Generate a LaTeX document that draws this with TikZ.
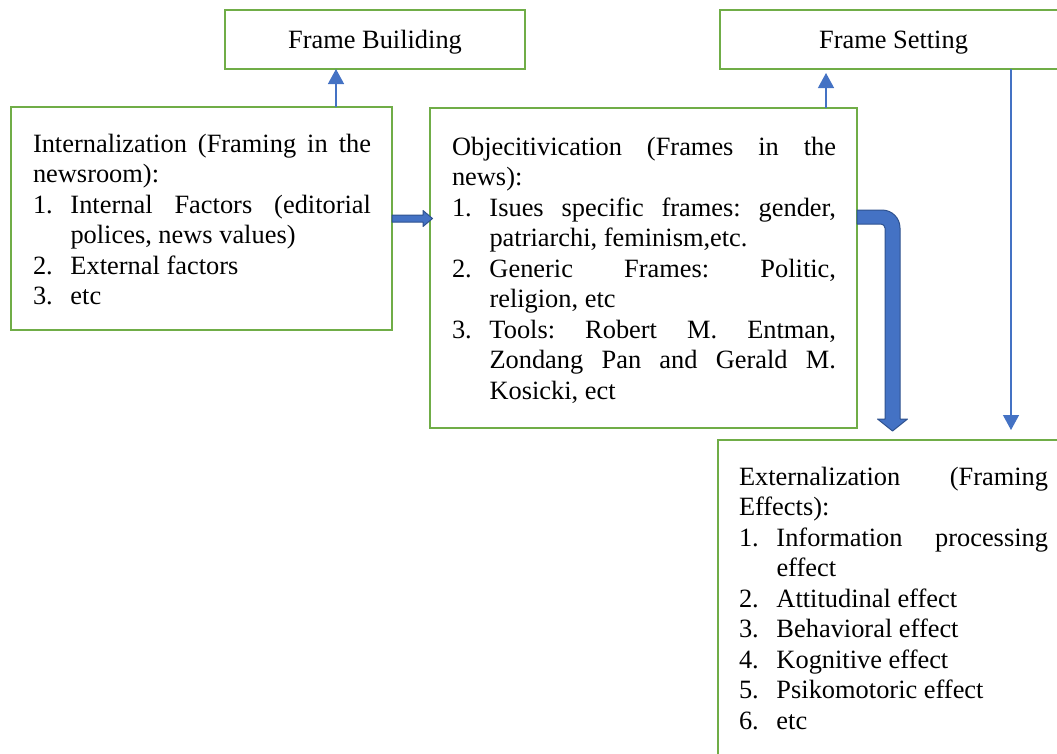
\documentclass[tikz,border=0pt]{standalone}
\usepackage{fontspec}
\setmainfont{Liberation Serif}
\usetikzlibrary{arrows.meta,calc}
\definecolor{boxgreen}{HTML}{70AD47}
\definecolor{arrblue}{HTML}{4472C4}
\definecolor{arrdark}{HTML}{2F528F}
\newcommand\itm[2]{\par\hangindent=37.5pt\hangafter=1\noindent\makebox[37.5pt][l]{#1}#2}
\begin{document}
\begin{tikzpicture}[x=1pt,y=-1pt,
  box/.style={draw=boxgreen,line width=2.8pt,inner sep=0pt,outer sep=0pt},
  title/.style={font={\fontsize{26.4}{30.5}\selectfont},text height=18pt,text depth=0pt},
  txt/.style={inner sep=0pt,outer sep=0pt,anchor=north west,align=justify,
    font={\fontsize{26.4}{30.5}\selectfont\frenchspacing\tolerance=10000\hyphenpenalty=10000}},
  thinarrow/.style={draw=arrblue,line width=1.3pt,-{Triangle[width=16pt,length=15pt]}},
  blockarrow/.style={fill=arrblue,draw=arrdark,line width=1pt,line join=round}]
\useasboundingbox (0,0) rectangle (1057,753);
\clip (0,0) rectangle (1057,753);
% boxes
\node[box,title,minimum width=300pt,minimum height=59pt] (fb) at (375,39.5) {Frame Builiding};
\node[box,title,minimum width=347pt,minimum height=59pt] (fs) at (893.5,39.5) {Frame Setting};
\node[box,minimum width=381pt,minimum height=223pt] (int) at (201.5,218.5) {};
\node[box,minimum width=427pt,minimum height=320pt] (obj) at (643.5,268) {};
\node[box,minimum width=351pt,minimum height=360pt] (ext) at (893.5,620) {};
% texts
\node[txt,text width=338pt] (inttxt) at (33,132) {\noindent\rule{0pt}{20pt}Internalization (Framing in the\linebreak newsroom):
\itm{1.}{Internal Factors (editorial\linebreak polices, news values)}
\itm{2.}{External factors}
\itm{3.}{etc}\par};
\node[txt,text width=384pt] (objtxt) at (452,135) {\noindent\rule{0pt}{20pt}Objecitivication (Frames in the\linebreak news):
\itm{1.}{Isues specific frames: gender,\linebreak patriarchi, feminism,etc.}
\itm{2.}{Generic Frames: Politic,\linebreak religion, etc}
\itm{3.}{Tools: Robert M. Entman,\linebreak Zondang Pan and Gerald M.\linebreak Kosicki, ect}\par};
\node[txt,text width=309pt] (exttxt) at (739,465) {\noindent\rule{0pt}{20pt}Externalization (Framing\linebreak Effects):
\itm{1.}{Information processing\linebreak effect}
\itm{2.}{Attitudinal effect}
\itm{3.}{Behavioral effect}
\itm{4.}{Kognitive effect}
\itm{5.}{Psikomotoric effect}
\itm{6.}{etc}\par};
% thin connectors
\coordinate (c1) at ($(fb.south west)+(111,0)$);
\draw[thinarrow] (c1 |- int.north) -- (c1);
\coordinate (c2) at ($(obj.north east)+(-31,0)$);
\draw[thinarrow,shorten >=4pt] (c2) -- (c2 |- fs.south);
\coordinate (c3) at ($(fs.south west)+(291,0)$);
\draw[thinarrow,shorten >=10pt] (c3) -- (c3 |- ext.north);
% block arrow int -> obj
\coordinate (a0) at (int.east);
\coordinate (a1) at (obj.west |- int.east);
\path[blockarrow] ($(a0)+(0,-3.5)$) -- ($(a1)+(-7,-3.5)$) -- ($(a1)+(-7,-8)$) -- ($(a1)+(2.5,0)$)
  -- ($(a1)+(-7,8)$) -- ($(a1)+(-7,3.5)$) -- ($(a0)+(0,3.5)$) -- cycle;
% bent block arrow obj -> ext
\coordinate (bs) at (obj.east |- int.east);
\coordinate (bt) at ($(ext.north west)+(174.5,-9)$);
\coordinate (bk) at (bt |- bs);
\path[blockarrow] ($(bs)+(0,-8.5)$) -- ($(bk)+(-10.5,-8.5)$)
  .. controls ($(bk)+(-0.5,-8.5)$) and ($(bk)+(7.5,-0.5)$) .. ($(bk)+(7.5,9.5)$)
  -- ($(bt)+(7.5,-12)$) -- ($(bt)+(15,-12)$) -- (bt) -- ($(bt)+(-15,-12)$) -- ($(bt)+(-7.5,-12)$)
  -- ($(bk)+(-7.5,9.5)$)
  .. controls ($(bk)+(-7.5,7.3)$) and ($(bk)+(-9.7,5.5)$) .. ($(bk)+(-11.5,5.5)$)
  -- ($(bs)+(0,5.5)$) -- cycle;
\end{tikzpicture}
\end{document}
